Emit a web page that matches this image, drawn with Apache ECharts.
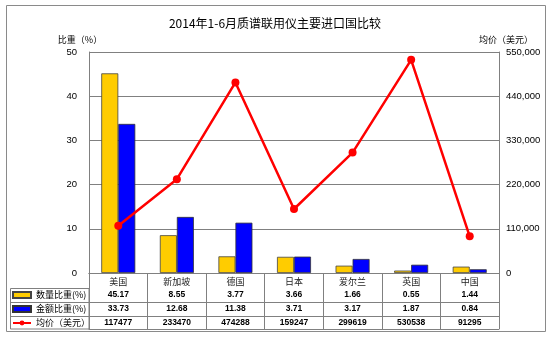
<!DOCTYPE html>
<html><head><meta charset="utf-8">
<script src="https://cdn.jsdelivr.net/npm/echarts@6/dist/echarts.min.js"></script>
<style>html,body{margin:0;padding:0;background:#fff}#c{width:550px;height:339px}</style>
</head><body><div id="c"></div>
<script>
const title = '2014年1-6月质谱联用仪主要进口国比较';
const categories = ['美国','新加坡','德国','日本','爱尔兰','英国','中国'];
const seriesNames = ['数量比重(%)','金额比重(%)','均价（美元）'];
const qtyShare = [45.17, 8.55, 3.77, 3.66, 1.66, 0.55, 1.44];
const amtShare = [33.73, 12.68, 11.38, 3.71, 3.17, 1.87, 0.84];
const avgPrice = [117477, 233470, 474288, 159247, 299619, 530538, 91295];
const leftAxisName = '比重（%）';
const rightAxisName = '均价（美元）';

const CJK = '"Noto Sans CJK SC", sans-serif';
const LAT = '"Liberation Sans", Arial, sans-serif';
const lineCol = '#808080';

function rowAxis(offset, values, fmt) {
  return {
    type: 'category', data: categories, gridIndex: 0, position: 'bottom', offset: offset,
    axisLine: { show: true, lineStyle: { color: lineCol, width: 1 } },
    axisTick: { show: false },
    splitLine: { show: false },
    axisLabel: {
      show: !!values, interval: 0, margin: 2,
      formatter: (v, i) => values ? fmt(values[i]) : '',
      fontFamily: LAT, fontWeight: 'bold', fontSize: 8.5, color: '#000', lineHeight: 10
    }
  };
}

const chart = echarts.init(document.getElementById('c'), null, { renderer: 'canvas' });
chart.setOption({
  animation: false,
  backgroundColor: '#fff',
  title: {
    text: title, left: 'center', top: 12,
    textStyle: { fontFamily: CJK, fontSize: 12, fontWeight: 'normal', color: '#000' }
  },
  grid: { left: 89, right: 51, top: 52, bottom: 66 },
  legend: {
    data: [
      { name: seriesNames[0], icon: 'rect' },
      { name: seriesNames[1], icon: 'rect' },
      { name: seriesNames[2] }
    ],
    orient: 'vertical', left: 12, top: 288, padding: 0,
    itemGap: 0, itemWidth: 18, itemHeight: 6,
    textStyle: { fontFamily: CJK, fontSize: 9, color: '#000', lineHeight: 14 }
  },
  xAxis: [
    {
      type: 'category', data: categories, position: 'bottom',
      axisLine: { show: true, lineStyle: { color: lineCol, width: 1 } },
      axisTick: { show: true, interval: 0, length: 56, lineStyle: { color: lineCol, width: 1 } },
      axisLabel: { interval: 0, margin: 3, fontFamily: CJK, fontSize: 9, color: '#222', lineHeight: 11 },
      splitLine: { show: false }
    },
    rowAxis(15, qtyShare, v => v.toFixed(2)),
    rowAxis(29, amtShare, v => v.toFixed(2)),
    rowAxis(43, avgPrice, v => String(v)),
    rowAxis(56, null, null)
  ],
  yAxis: [
    {
      type: 'value', min: 0, max: 50, interval: 10, position: 'left',
      name: leftAxisName, nameLocation: 'end', nameGap: 8,
      nameTextStyle: { fontFamily: CJK, fontSize: 9, color: '#000', align: 'center', padding: [0, 18, 0, 0] },
      axisLine: { show: true, lineStyle: { color: lineCol, width: 1 } },
      axisTick: { show: false },
      axisLabel: { margin: 12, fontFamily: LAT, fontSize: 9.5, color: '#000' },
      splitLine: { show: true, lineStyle: { color: lineCol, width: 1 } }
    },
    {
      type: 'value', min: 0, max: 550000, interval: 110000, position: 'right',
      name: rightAxisName, nameLocation: 'end', nameGap: 8,
      nameTextStyle: { fontFamily: CJK, fontSize: 9, color: '#000', align: 'center', padding: [0, 0, 0, 14] },
      axisLine: { show: true, lineStyle: { color: lineCol, width: 1 } },
      axisTick: { show: false },
      axisLabel: { margin: 7, fontFamily: LAT, fontSize: 9.5, color: '#000' },
      splitLine: { show: false }
    }
  ],
  series: [
    {
      name: seriesNames[0], type: 'bar', data: qtyShare, xAxisIndex: 0, yAxisIndex: 0,
      barWidth: 17, barGap: '0%',
      itemStyle: { color: '#FFCC00', borderColor: '#444', borderWidth: 0.8 }
    },
    {
      name: seriesNames[1], type: 'bar', data: amtShare, xAxisIndex: 0, yAxisIndex: 0,
      barWidth: 17, barGap: '0%',
      itemStyle: { color: '#0000FF', borderColor: '#333', borderWidth: 0.8 }
    },
    {
      name: seriesNames[2], type: 'line', data: avgPrice, xAxisIndex: 0, yAxisIndex: 1,
      symbol: 'circle', symbolSize: 8, z: 5,
      lineStyle: { color: '#FF0000', width: 2.5 },
      itemStyle: { color: '#FF0000' }
    }
  ],
  graphic: [
    { type: 'rect', silent: true, z: -1, shape: { x: 6.5, y: 5.5, width: 539, height: 326 },
      style: { fill: null, stroke: '#8a8a8a', lineWidth: 1 } },
    { type: 'rect', silent: true, shape: { x: 10.5, y: 288.5, width: 78.5, height: 40.5 },
      style: { fill: null, stroke: lineCol, lineWidth: 1 } },
    { type: 'line', silent: true, shape: { x1: 10.5, y1: 302.5, x2: 89, y2: 302.5 },
      style: { stroke: lineCol, lineWidth: 1 } },
    { type: 'line', silent: true, shape: { x1: 10.5, y1: 316.5, x2: 89, y2: 316.5 },
      style: { stroke: lineCol, lineWidth: 1 } }
  ]
});
</script></body></html>
